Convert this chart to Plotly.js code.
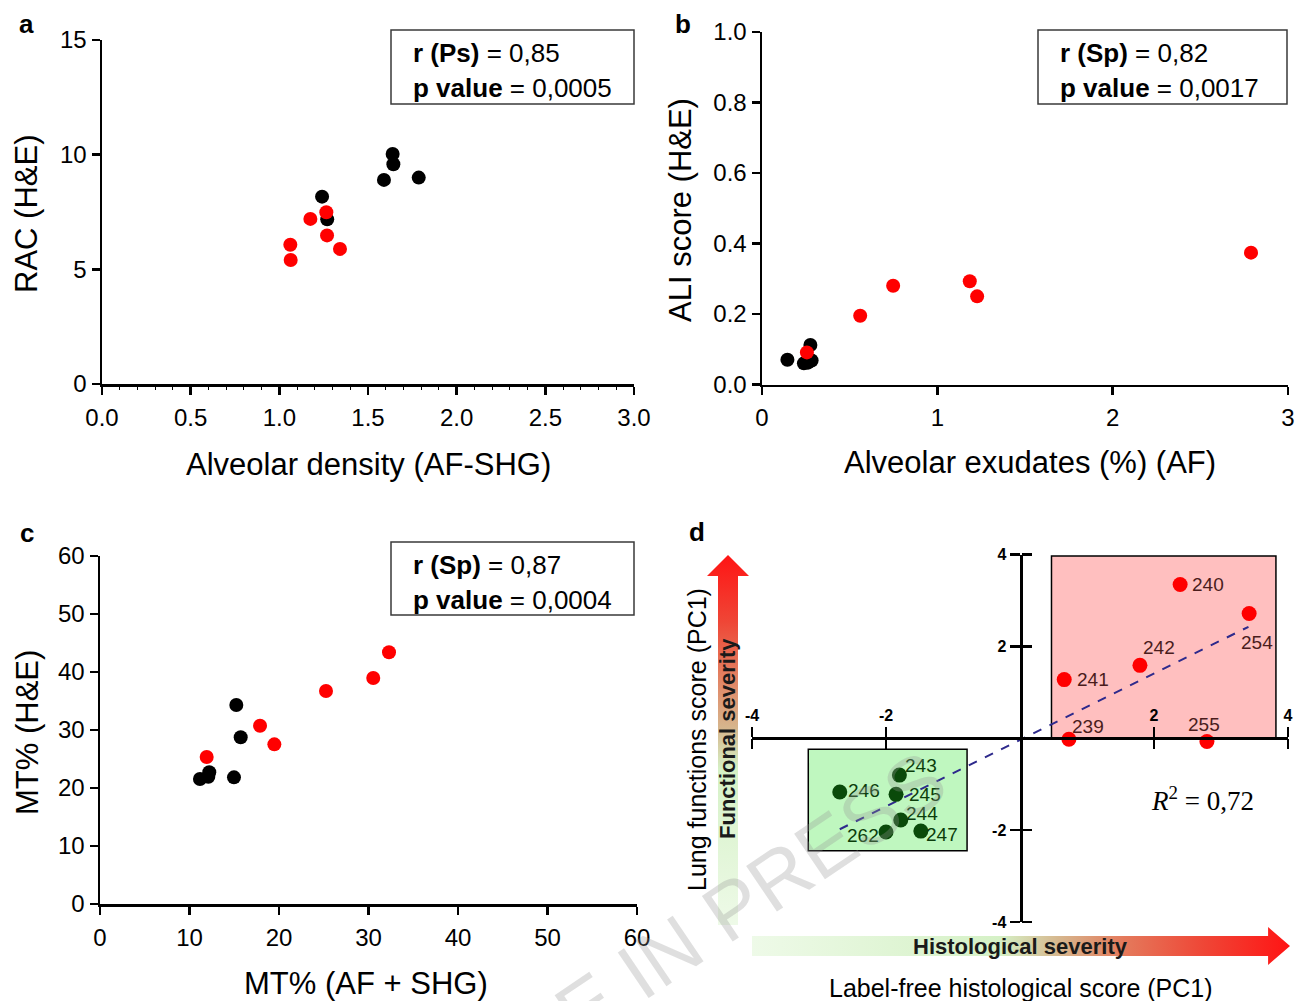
<!DOCTYPE html>
<html><head><meta charset="utf-8">
<script src="https://cdn.plot.ly/plotly-3.0.1.min.js"></script>
<style>html,body{margin:0;padding:0;background:#fff}#chart{width:1296px;height:1001px}</style>
</head><body><div id="chart"></div>
<script>
// ---------- DATA ----------
// Panel a: Alveolar density (AF-SHG) vs RAC (H&E)
const aBlackX = [1.639, 1.643, 1.590, 1.786, 1.241, 1.270];
const aBlackY = [10.03, 9.58, 8.90, 9.00, 8.17, 7.18];
const aRedX   = [1.265, 1.175, 1.269, 1.342, 1.062, 1.064];
const aRedY   = [7.49, 7.20, 6.48, 5.89, 6.07, 5.41];
// Panel b: Alveolar exudates (%) (AF) vs ALI score (H&E)
const bBlackX = [0.145, 0.276, 0.239, 0.262, 0.283];
const bBlackY = [0.070, 0.112, 0.060, 0.062, 0.068];
const bRedX   = [0.256, 0.560, 0.748, 1.185, 1.227, 2.789];
const bRedY   = [0.091, 0.195, 0.280, 0.293, 0.250, 0.374];
// Panel c: MT% (AF + SHG) vs MT% (H&E)
const cBlackX = [11.17, 12.21, 12.10, 14.97, 15.23, 15.72];
const cBlackY = [21.55, 22.71, 21.95, 21.84, 34.31, 28.74];
const cRedX   = [11.92, 17.88, 19.48, 25.25, 30.53, 32.29];
const cRedY   = [25.34, 30.74, 27.53, 36.72, 38.97, 43.40];
// Panel d: label-free histological score (PC1) vs lung functions score (PC1)
const dRedIds = ['240', '254', '242', '241', '239', '255'];
const dRedX   = [2.39, 3.42, 1.79, 0.66, 0.73, 2.79];
const dRedY   = [3.35, 2.72, 1.59, 1.28, -0.02, -0.07];
const dGreenIds = ['243', '246', '245', '244', '262', '247'];
const dGreenX   = [-1.80, -2.69, -1.85, -1.78, -2.00, -1.48];
const dGreenY   = [-0.80, -1.17, -1.22, -1.78, -2.04, -2.02];
const dFitX = [-2.69, 3.41];
const dFitY = [-1.98, 2.43];
const dR2 = '0,72';
// group boxes (PC1 units)
const pinkBoxX = [0.47, 3.82], pinkBoxY = [0, 3.97];
const greenBoxX = [-3.16, -0.79], greenBoxY = [-2.45, -0.24];
// stats
const statsA = ['r (Ps)', '0,85', '0,0005'];
const statsB = ['r (Sp)', '0,82', '0,0017'];
const statsC = ['r (Sp)', '0,87', '0,0004'];
// tick labels
const dTickVals = [-4, -2, 2, 4];
const dTickText = ['-4', '-2', '2', '4'];

// ---------- STYLE ----------
const W = 1296, H = 1001;
const FONT = 'Liberation Sans, Arial, sans-serif';
const px = x => x / W, py = y => 1 - y / H;
const RED = '#ff0000', BLACK = '#000000', DGREEN = '#0a4a0a';
// label placement for panel d: [anchor, dx, dy] in pixels relative to the point (dy down)
const redLabelPos   = [['left', 12, 0], ['left', -8, 29], ['left', 3, -18], ['left', 13, 0], ['left', 3, -13], ['left', -19, -17]];
const greenLabelPos = [['left', 6, -10], ['left', 8, -2], ['left', 13, 0], ['left', 5, -7], ['right', -7, 3], ['left', 5, 3]];

function ax(extra) {
  return Object.assign({
    showline: true, linecolor: '#000', linewidth: 2.5,
    ticks: 'outside', ticklen: 8, tickwidth: 2.5, tickcolor: '#000',
    showgrid: false, zeroline: false, fixedrange: true,
    tickfont: {family: FONT, size: 24, color: '#000'}
  }, extra);
}
function pts(x, y, color, xa, ya, size) {
  return {type: 'scatter', mode: 'markers', x: x, y: y, xaxis: xa, yaxis: ya,
    marker: {color: color, size: size || 14}, hoverinfo: 'skip', cliponaxis: false};
}
function ann(text, x, y, o) {
  return Object.assign({text: text, x: px(x), y: py(y), xref: 'paper', yref: 'paper',
    showarrow: false, xanchor: 'center', yanchor: 'middle',
    font: {family: FONT, size: 31, color: '#000'}}, o || {});
}
function statBox(x0, y0, x1, y1, s) {
  return {
    shape: {type: 'rect', xref: 'paper', yref: 'paper', x0: px(x0), x1: px(x1), y0: py(y0), y1: py(y1),
      line: {color: '#3a3a3a', width: 1.5}, fillcolor: 'rgba(255,255,255,0)', layer: 'above'},
    anns: [
      ann('<b>' + s[0] + '</b> = ' + s[1], x0 + 20, y0 + 23, {xanchor: 'left', font: {family: FONT, size: 26, color: '#000'}}),
      ann('<b>p value</b> = ' + s[2], x0 + 20, y0 + 58, {xanchor: 'left', font: {family: FONT, size: 26, color: '#000'}})
    ]
  };
}
function pointLabels(ids, xs, ys, pos, color) {
  return ids.map((t, i) => ({
    text: t, x: xs[i], y: ys[i], xref: 'x4', yref: 'y4', showarrow: false,
    xanchor: pos[i][0], yanchor: 'middle', xshift: pos[i][1], yshift: -pos[i][2],
    borderpad: 0, borderwidth: 0,
    font: {family: FONT, size: 19, color: color}
  }));
}
const boxA = statBox(391, 30, 634, 104, statsA);
const boxB = statBox(1038, 30, 1287, 104, statsB);
const boxC = statBox(391, 542, 634, 615, statsC);

// ---------- TRACES ----------
const traces = [
  pts(aBlackX, aBlackY, BLACK, 'x', 'y'),
  pts(aRedX, aRedY, RED, 'x', 'y'),
  pts(bBlackX, bBlackY, BLACK, 'x2', 'y2'),
  pts(bRedX, bRedY, RED, 'x2', 'y2'),
  pts(cBlackX, cBlackY, BLACK, 'x3', 'y3'),
  pts(cRedX, cRedY, RED, 'x3', 'y3'),
  {type: 'scatter', mode: 'lines', x: dFitX, y: dFitY, xaxis: 'x4', yaxis: 'y4',
    line: {color: '#2e2a8c', width: 2, dash: 'dash'}, hoverinfo: 'skip'},
  pts(dRedX, dRedY, RED, 'x4', 'y4', 15),
  pts(dGreenX, dGreenY, DGREEN, 'x4', 'y4', 15),
  // empty traces that carry the helper axes drawing the lower / right halves of the crossing ticks
  {type: 'scatter', mode: 'markers', x: [], y: [], xaxis: 'x5', yaxis: 'y4', hoverinfo: 'skip'},
  {type: 'scatter', mode: 'markers', x: [], y: [], xaxis: 'x4', yaxis: 'y5', hoverinfo: 'skip'}
];

// ---------- ARROWS (decorative gradients) ----------
function svgURI(s) { return 'data:image/svg+xml;charset=utf-8,' + encodeURIComponent(s); }
const hArrow = '<svg xmlns="http://www.w3.org/2000/svg" width="540" height="38" viewBox="0 0 540 38" preserveAspectRatio="none">' +
  '<defs><linearGradient id="g" x1="0" y1="0" x2="1" y2="0">' +
  '<stop offset="0" stop-color="#eefae8"/><stop offset="0.46" stop-color="#d5f1c6"/>' +
  '<stop offset="0.57" stop-color="#d6b78e"/><stop offset="0.69" stop-color="#e47a5c"/>' +
  '<stop offset="0.84" stop-color="#ef4636"/><stop offset="1" stop-color="#ff1414"/></linearGradient></defs>' +
  '<path d="M0 9 H518 V0 L540 19 L518 38 V29 H0 Z" fill="url(#g)"/></svg>';
const vArrow = '<svg xmlns="http://www.w3.org/2000/svg" width="42" height="370" viewBox="0 0 42 370" preserveAspectRatio="none">' +
  '<defs><linearGradient id="g" x1="0" y1="1" x2="0" y2="0">' +
  '<stop offset="0" stop-color="#eefae8"/><stop offset="0.42" stop-color="#d5f1c6"/>' +
  '<stop offset="0.53" stop-color="#d6b78e"/><stop offset="0.69" stop-color="#e47a5c"/>' +
  '<stop offset="0.82" stop-color="#ef4636"/><stop offset="1" stop-color="#ff1414"/></linearGradient></defs>' +
  '<path d="M21 0 L42 21 H31 V370 H11 V21 H0 Z" fill="url(#g)"/></svg>';

// ---------- LAYOUT ----------
const dTickFont = {family: FONT, size: 16, color: '#000', weight: 'bold'};
const layout = {
  width: W, height: H, margin: {l: 0, r: 0, t: 0, b: 0},
  paper_bgcolor: '#fff', plot_bgcolor: 'rgba(0,0,0,0)', showlegend: false,
  font: {family: FONT, color: '#000'},
  xaxis: ax({domain: [px(102), px(634)], anchor: 'y', range: [0, 3], tickmode: 'linear', tick0: 0, dtick: 0.5, tickformat: '.1f',
    ticklabelstandoff: 3, minor: {dtick: 0.1, ticks: 'outside', ticklen: 3, tickwidth: 1, tickcolor: '#000'}}),
  yaxis: ax({domain: [py(384), py(40)], anchor: 'x', range: [0, 15], tickmode: 'linear', tick0: 0, dtick: 5}),
  xaxis2: ax({domain: [px(762), px(1288)], anchor: 'y2', range: [0, 3], tickmode: 'linear', tick0: 0, dtick: 1, ticklabelstandoff: 2}),
  yaxis2: ax({domain: [py(384.5), py(32)], anchor: 'x2', range: [0, 1], tickmode: 'linear', tick0: 0, dtick: 0.2, tickformat: '.1f'}),
  xaxis3: ax({domain: [px(100), px(637)], anchor: 'y3', range: [0, 60], tickmode: 'linear', tick0: 0, dtick: 10, ticklabelstandoff: 3}),
  yaxis3: ax({domain: [py(904), py(556)], anchor: 'x3', range: [0, 60], tickmode: 'linear', tick0: 0, dtick: 10}),
  xaxis4: ax({domain: [px(752), px(1288)], anchor: 'free', position: py(738.3), side: 'top', range: [-4, 4],
    tickmode: 'array', tickvals: dTickVals, ticktext: dTickText, ticklen: 10, linewidth: 3, tickwidth: 2.5,
    tickfont: dTickFont}),
  yaxis4: ax({domain: [py(922), py(554.7)], anchor: 'free', position: px(1020.5), side: 'left', range: [-4, 4],
    tickmode: 'array', tickvals: dTickVals, ticktext: dTickText, ticklen: 10, linewidth: 3, tickwidth: 2.5,
    tickfont: dTickFont}),
  xaxis5: ax({overlaying: 'x4', anchor: 'free', position: py(738.3), side: 'bottom', range: [-4, 4], domain: [px(752), px(1288)],
    tickmode: 'array', tickvals: dTickVals, ticklen: 10, tickwidth: 2.5, showline: false, showticklabels: false}),
  yaxis5: ax({overlaying: 'y4', anchor: 'free', position: px(1020.5), side: 'right', range: [-4, 4], domain: [py(922), py(554.7)],
    tickmode: 'array', tickvals: dTickVals, ticklen: 10, tickwidth: 2.5, showline: false, showticklabels: false}),
  shapes: [
    {type: 'rect', xref: 'x4', yref: 'y4', x0: pinkBoxX[0], x1: pinkBoxX[1], y0: pinkBoxY[0], y1: pinkBoxY[1],
      fillcolor: '#ffbfbf', line: {color: '#000', width: 1.5}, layer: 'below'},
    {type: 'rect', xref: 'x4', yref: 'y4', x0: greenBoxX[0], x1: greenBoxX[1], y0: greenBoxY[0], y1: greenBoxY[1],
      fillcolor: '#bff7bf', line: {color: '#000', width: 1.5}, layer: 'below'},
    boxA.shape, boxB.shape, boxC.shape
  ],
  images: [
    {source: svgURI(hArrow), xref: 'paper', yref: 'paper', x: px(752), y: py(927), sizex: 538 / W, sizey: 38 / H,
      xanchor: 'left', yanchor: 'top', sizing: 'stretch', layer: 'above'},
    {source: svgURI(vArrow), xref: 'paper', yref: 'paper', x: px(707), y: py(555), sizex: 42 / W, sizey: 370 / H,
      xanchor: 'left', yanchor: 'top', sizing: 'stretch', layer: 'above'}
  ],
  annotations: [
    // panel letters
    ann('<b>a</b>', 26, 24, {font: {family: FONT, size: 26, color: '#000'}}),
    ann('<b>b</b>', 683, 24, {font: {family: FONT, size: 26, color: '#000'}}),
    ann('<b>c</b>', 27, 533, {font: {family: FONT, size: 26, color: '#000'}}),
    ann('<b>d</b>', 697, 532, {font: {family: FONT, size: 26, color: '#000'}}),
    // axis titles
    ann('Alveolar density (AF-SHG)', 368, 464),
    ann('RAC (H&E)', 27, 214, {textangle: -90}),
    ann('Alveolar exudates (%) (AF)', 1030, 462),
    ann('ALI score (H&E)', 680, 210, {textangle: -90}),
    ann('MT% (AF + SHG)', 366, 983),
    ann('MT% (H&E)', 27, 733, {textangle: -90}),
    ann('Label-free histological score (PC1)', 1021, 988, {font: {family: FONT, size: 25, color: '#000'}}),
    ann('Lung functions score (PC1)', 697, 740, {textangle: -90, font: {family: FONT, size: 25, color: '#000'}}),
    ann('<b>Functional severity</b>', 727, 739, {textangle: -90, font: {family: FONT, size: 22, color: '#1a1a1a'}}),
    ann('<b>Histological severity</b>', 1020, 946, {font: {family: FONT, size: 22, color: '#1a1a1a'}}),
    ann('<i>R</i><sup>2</sup> = ' + dR2, 1202, 799, {font: {family: 'Liberation Serif, DejaVu Serif, serif', size: 27, color: '#000'}}),
    ...boxA.anns, ...boxB.anns, ...boxC.anns,
    ...pointLabels(dRedIds, dRedX, dRedY, redLabelPos, '#4a1c1c'),
    ...pointLabels(dGreenIds, dGreenX, dGreenY, greenLabelPos, '#0b3d0b'),
    // watermark
    ann('ARTICLE IN PRESS', 633, 975, {textangle: -34, font: {family: FONT, size: 80, color: 'rgba(150,150,150,0.3)'}})
  ]
};

Plotly.newPlot('chart', traces, layout, {staticPlot: true, displayModeBar: false});
</script></body></html>
